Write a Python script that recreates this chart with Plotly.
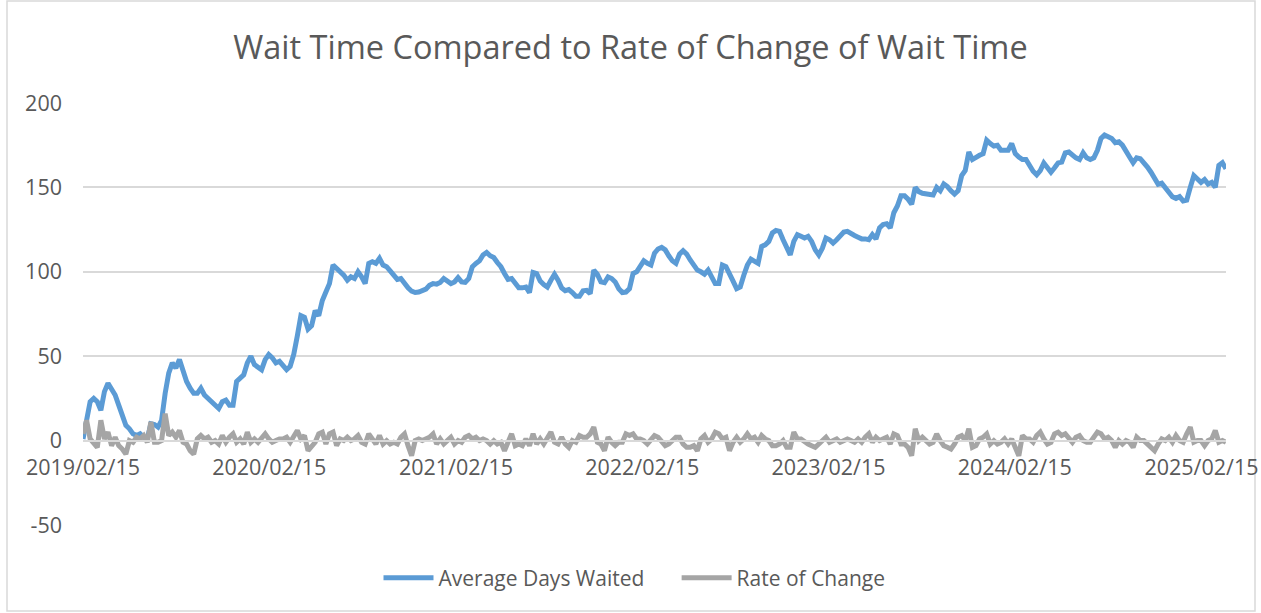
import pandas as pd
import plotly.graph_objects as go

# Weekly series (first week 2019-02-15)
avg_days = [
    1, 13, 23, 25, 23, 18, 29, 34, 31, 27,
    21, 15, 9, 7, 4, 3, 4, 2, 1, 10,
    9.5, 8, 12, 28, 40, 46, 43, 48, 41, 35,
    31, 28, 28, 31, 27, 25, 24, 22, 19, 23,
    24, 21, 21, 35, 37, 39, 46, 50, 45, 43,
    42, 48, 51, 49, 46, 47, 45, 42, 44, 51,
    62, 74, 73, 66, 68, 77, 74, 83, 88, 93,
    104, 102, 101, 98, 95, 97, 96, 100, 97, 93,
    105, 106, 105, 108, 104, 103, 100.5, 97.5, 95.5, 96,
    93, 90.5, 88.5, 87.7, 88, 89, 89.7, 92, 93, 92.7,
    93.7, 96, 94, 93, 94, 96.5, 94, 93.7, 96, 103,
    105, 106.5, 110, 111.5, 109.5, 108.5, 105.5, 103, 99, 95.5,
    96, 93, 90.5, 90.5, 91, 87.7, 99.6, 99, 94.5, 92.5,
    91, 95, 98.5, 95, 90.5, 88.8, 89.5, 87.7, 85.5, 85.5,
    88.7, 89, 87, 101, 98.5, 94, 93.5, 97, 96, 94,
    90, 87.7, 88, 90, 99, 100, 103, 106.5, 105, 104,
    111, 113.5, 114.5, 113, 109.5, 106.5, 105, 110.5, 112.5, 110.5,
    107, 104, 101, 100, 98.6, 101, 97, 93, 93, 104,
    103, 98, 94.5, 90, 91, 98, 104, 107.5, 106.5, 105,
    115, 116, 118, 123, 124.5, 124, 119, 114, 110, 118,
    122, 121, 120, 121, 118, 113, 110, 114, 120, 119,
    117, 119, 121, 123.5, 124, 122.5, 121.5, 120.5, 119.5, 119.5,
    119, 122, 119.5, 126, 128, 128.5, 126, 135, 139, 145,
    145, 143, 140, 150, 147.5, 146.5, 146, 146, 145.5, 150,
    148, 152, 150.5, 148, 146, 148, 157, 160, 171, 166.5,
    168, 169, 170, 178, 176, 174.5, 175, 172, 172, 172,
    176, 170, 168, 166.5, 166.5, 162.6, 159.6, 157.5, 160, 164.5,
    162, 159, 161.6, 164.5, 165, 170.5, 171, 169, 167.5, 166.5,
    170.5, 167.5, 166.5, 167.5, 172, 179, 181, 180, 179, 176.5,
    177, 175, 171, 168, 164.6, 167.5, 167, 165, 162, 159,
    156, 151.8, 152.5, 149.5, 146.5, 144.5, 143.5, 144.5, 142, 142.5,
    150, 157, 155, 153, 154.7, 152, 153, 150, 163, 164.6,
    161,
]

rate_change = [
    4, 12, 1, -1, -4, 12, 1, 5, -3, 2,
    -3, -5, -8, 0, -1, 2, 1, 3, -1, 11,
    -1, -1, 0, 16, 3, 5, 2, 6, -1, -2,
    -6, -8, 1, 3, 1, 2, -1, 0, -2, 3,
    -1, 2, 4, -1, 1, -2, 5, -1, 1, -1,
    2, 4, 1, -1, 0, 1, 1, 2, -1, 2,
    6, 1, 3, -6, -3, -1, 4, 5, -2, 4,
    5, -3, 1, 0, 2, 0, 1, 3, -1, -2,
    4, 1, -2, 3, -2, 0, -2, -1, -2, 2,
    4, -3, -9, 0, 1, 0, 1, 2, 4, -2,
    1, -2, 0, 2, -2, 0, -1, 2, 3, 1,
    2, 0, 1, 0, -2, 0, -2, -1, -6, 0,
    4, -3, -2, -3, 1, -3, 4, -2, 1, -2,
    1, 5, -1, -2, 2, -2, -4, 0, -1, 3,
    2, 2, 4, 8, -1, -2, -6, 2, -1, -3,
    -1, -1, 4, 3, 4, 1, 1, 0, -2, 1,
    3, 2, -1, -3, -2, 0, 2, 2, -2, -4,
    -4, -3, -6, 1, 3, -1, 1, 5, 4, 1,
    2, -6, -1, 2, -1, 1, 4, 1, 2, -1,
    3, 1, 0, -3, -3, -2, 0, -4, -4, 5,
    1, 1, -1, -2, -3, -4, -2, 0, 2, -1,
    0, 1, -1, 0, 1, 0, -1, 1, -1, 2,
    4, -1, 2, 0, 1, 2, -2, 4, 3, -2,
    -2, -4, -9, 7, 0, 2, 0, -2, -1, 4,
    0, -3, -4, -5, -2, 2, 3, 0, 7, -4,
    -3, 1, 2, 4, -2, 0, -2, -1, 1, -2,
    1, -4, -9, 3, 1, 1, -1, 3, 5, 1,
    -2, -1, 4, 5, 3, 4, 1, -1, 2, 3,
    0, -1, -1, 2, 5, 4, 1, 2, 0, -4,
    0, -2, 0, -1, -4, 2, 0, 0, -2, -4,
    -6, -2, 1, 0, 2, -1, 3, 0, -1, 4,
    8, -1, 0, 0, -3, 0, 1, 6, -1, 0,
    -1,
]

tick_dates = ["2019-02-15", "2020-02-15", "2021-02-15", "2022-02-15",
              "2023-02-15", "2024-02-15", "2025-02-15"]
tick_labels = ["2019/02/15", "2020/02/15", "2021/02/15", "2022/02/15",
               "2023/02/15", "2024/02/15", "2025/02/15"]
y_ticks = [-50, 0, 50, 100, 150, 200]
y_tick_labels = ["-50", "0", "50", "100", "150", "200"]

dates = pd.date_range("2019-02-15", periods=len(avg_days), freq="7D")

TEXT = "#595959"
GRID = "#d9d9d9"
FONT = "Open Sans"
NB = "\u00a0"

fig = go.Figure()
fig.add_trace(go.Scatter(x=dates, y=avg_days, mode="lines",
                         name="Average Days Waited" + NB * 5,
                         line=dict(color="#5B9BD5", width=5)))
fig.add_trace(go.Scatter(x=dates[:len(rate_change)], y=rate_change, mode="lines",
                         name="Rate of Change",
                         line=dict(color="#A5A5A5", width=5)))

fig.update_layout(
    width=1261, height=613,
    paper_bgcolor="white", plot_bgcolor="white",
    margin=dict(l=83, r=35, t=103, b=88, autoexpand=False),
    font=dict(family=FONT, color=TEXT, size=21),
    title=dict(text="Wait Time Compared to Rate of Change of Wait Time",
               x=0.5, xanchor="center", y=1 - 48 / 613, yanchor="middle",
               font=dict(family=FONT, size=32.5, color=TEXT)),
    showlegend=True,
    legend=dict(orientation="h", x=0.4825, xanchor="center",
                y=(525 - 578) / 422, yanchor="middle",
                font=dict(family=FONT, size=21, color=TEXT),
                itemwidth=50, traceorder="normal"),
    xaxis=dict(type="date", range=[dates[0], dates[-1]],
               tickvals=tick_dates, ticktext=tick_labels,
               anchor="free", position=0.2, automargin=False,
               showgrid=False, showline=True, linecolor=GRID, linewidth=1.5,
               ticks="outside", ticklen=8, tickcolor="rgba(0,0,0,0)",
               tickfont=dict(family=FONT, size=21.5, color=TEXT),
               zeroline=False),
    yaxis=dict(range=[-50, 200], tickvals=y_ticks, ticktext=y_tick_labels,
               automargin=False,
               showgrid=True, gridcolor=GRID, gridwidth=1.5,
               zeroline=False, showline=False, ticks="",
               ticklabelstandoff=20,
               tickfont=dict(family=FONT, size=21.5, color=TEXT)),
    shapes=[dict(type="rect", xref="paper", yref="paper",
                 x0=(7 - 83) / 1143, x1=(1255 - 83) / 1143,
                 y0=(525 - 611) / 422, y1=(525 - 1) / 422,
                 line=dict(color=GRID, width=1.5), fillcolor="rgba(0,0,0,0)",
                 layer="below")],
)

fig.write_html("out.html", config={"displayModeBar": False},
               post_script="document.body.style.margin='0';")
